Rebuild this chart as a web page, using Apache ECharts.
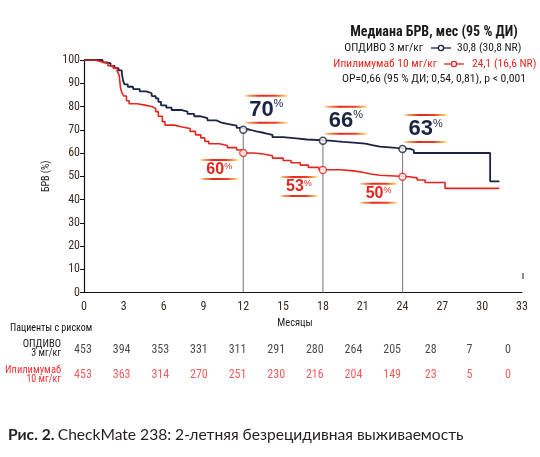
<!DOCTYPE html>
<html><head><meta charset="utf-8">
<script src="https://cdn.jsdelivr.net/npm/echarts@6/dist/echarts.min.js"></script>
<style>html,body{margin:0;padding:0;background:#fff}#c{width:540px;height:457px}</style>
</head><body><div id="c"></div>
<script>
// ---- data ----
const navyT = [0,1.4,1.7,2.0,2.3,2.6,2.85,2.95,3.05,3.3,3.7,4.2,4.7,5.1,5.4,5.6,5.8,6.2,6.6,7.3,7.8,8.3,8.8,9.3,10.0,10.3,10.8,11.5,11.9,12.5,13.0,13.6,14.2,15.0,16.0,16.8,18.5,19.5,20.3,21.2,21.8,22.3,23.5,24.6,24.85,30.6,31.3];
const navyS = [100,99,98.5,97.5,96.5,95.5,94.2,91,89.5,88.5,87.5,86.5,85.7,84.5,83.5,82,80.5,79.5,78.5,77.8,76.8,75.8,75,74,73.2,72.5,71.8,70.8,70,69.3,68.6,67.8,66.8,66.3,65.8,65.3,64.8,64.5,64,63.3,62.7,62.2,61.8,61.2,60,47.8,47.8];
const redT = [0,0.8,1.3,1.8,2.2,2.5,2.65,2.75,2.85,3.0,3.2,3.4,4.0,4.6,5.1,5.4,5.6,5.9,6.1,6.8,7.4,8.0,8.4,8.8,9.1,9.4,10.2,10.8,11.5,11.9,12.8,13.5,14.2,15.0,15.6,16.3,16.9,17.7,19.3,20.3,21.0,21.6,22.3,24.5,25.1,25.7,27.2,31.3];
const redS = [100,99.3,98.5,97.5,96.5,95.2,93.5,88,86,84.5,82.5,81.2,80.6,80,79.2,77.8,75.8,73.5,72,71.2,70.5,69.3,67.8,66.5,65,64,63.2,62.3,61.3,60,59.6,58.8,57.8,56.8,55.8,54.8,53.8,52.8,52.3,51.7,51,50.4,49.8,49.3,48.4,47.3,44.8,44.8];
const markMonths = [12,18,24];
const navyAtMark = [70,65.3,61.7];
const redAtMark = [60,52.7,49.8];
const navyLabels = ['70','66','63'];
const redLabels = ['60','53','50'];
const riskMonths = [0,3,6,9,12,15,18,21,24,27,30,33];
const riskNavy = [453,394,353,331,311,291,280,264,205,28,7,0];
const riskRed = [453,363,314,270,251,230,216,204,149,23,5,0];

// ---- style ----
const NAVY = '#1b2442', RED = '#e5261f', GRAY = '#8a8a8a';
const FAM = '"Roboto Condensed","Noto Sans Condensed","Open Sans Condensed","Noto Sans ExtraCondensed","Liberation Sans Narrow","Arial Narrow",Roboto,sans-serif';
const TICKC = '#3b2e22';
const cf = (size, bold) => (bold ? 'bold ' : '') + size + 'px ' + FAM;

const chart = echarts.init(document.getElementById('c'), null, {renderer:'canvas'});

function grad(){
  return new echarts.graphic.LinearGradient(0,0,1,0,[
    {offset:0,color:'rgba(247,166,35,0)'},
    {offset:0.12,color:'rgba(240,120,30,0.7)'},
    {offset:0.35,color:'#e5261f'},
    {offset:0.7,color:'#ec4322'},
    {offset:0.9,color:'rgba(247,170,40,0.75)'},
    {offset:1,color:'rgba(247,190,60,0)'}]);
}
function annot(color, labels, dx, dy, big, small, w, lt, lb){
  return function(params, api){
    const p = api.coord([api.value(0), api.value(1)]);
    const cx = p[0]+dx, cy = p[1]+dy;
    const txt = labels[params.dataIndex];
    return {type:'group', children:[
      {type:'rect', shape:{x:cx-w/2, y:cy+lt-1, width:w, height:2}, style:{fill:grad()}},
      {type:'rect', shape:{x:cx-w/2, y:cy+lb-1, width:w, height:2}, style:{fill:grad()}},
      {type:'text', x:cx, y:cy, style:{
        text:'{a|'+txt+'}{b|%}', align:'center', verticalAlign:'middle',
        rich:{
          a:{fontFamily:'"Liberation Sans",Arial,sans-serif', fontWeight:'bold', fontSize:big, fill:color, lineHeight:big},
          b:{fontFamily:'"Liberation Sans",Arial,sans-serif', fontSize:small, fill:color, verticalAlign:'top', lineHeight:big, padding:[0,0,big*0.45,0]}
        }}}
    ]};
  };
}

const vSeries = markMonths.map((m,i)=>({
  type:'line', xAxisIndex:0, yAxisIndex:0, data:[[m,0],[m,navyAtMark[i]]],
  symbol:'none', lineStyle:{color:GRAY,width:1.2}, z:1, silent:true
}));

const axisFont = {fontFamily:FAM, fontSize:12, color:TICKC};

const option = {
  animation:false,
  grid:[
    {left:84, right:18, top:60, bottom:164.5},
    {left:83, right:32, top:337.5, height:50}
  ],
  xAxis:[
    {type:'value', gridIndex:0, min:0, max:33, interval:3,
     axisLine:{lineStyle:{color:'#111',width:1.2}}, axisTick:{show:false},
     axisLabel:Object.assign({margin:8}, axisFont),
     splitLine:{show:false},
     name:'Месяцы', nameLocation:'middle', nameGap:25,
     nameTextStyle:{fontFamily:FAM, fontSize:10.5, color:'#222', padding:[0,16,0,0]}},
    {type:'value', gridIndex:1, min:0, max:33, show:false}
  ],
  yAxis:[
    {type:'value', gridIndex:0, min:0, max:100, interval:10,
     axisLine:{show:true, lineStyle:{color:'#111',width:1.2}},
     axisTick:{show:true, length:4, lineStyle:{color:'#111'}},
     axisLabel:Object.assign({margin:4}, axisFont),
     splitLine:{show:false},
     name:'БРВ (%)', nameLocation:'middle', nameGap:23, nameRotate:90,
     nameTextStyle:{fontFamily:FAM, fontSize:10, color:'#222'}},
    {type:'category', gridIndex:1, data:['ОПДИВО','Ипилимумаб'], inverse:true, show:false}
  ],
  series:[
    ...vSeries,
    {type:'line', name:'ОПДИВО', step:'end', data:navyT.map((t,i)=>[t,navyS[i]]),
     symbol:'none', lineStyle:{color:NAVY,width:1.8}, z:3},
    {type:'line', name:'Ипилимумаб', step:'end', data:redT.map((t,i)=>[t,redS[i]]),
     symbol:'none', lineStyle:{color:RED,width:1.6}, z:3},
    {type:'scatter', data:markMonths.map((m,i)=>[m,navyAtMark[i]]), symbol:'circle', symbolSize:7,
     itemStyle:{color:'#fff', borderColor:NAVY, borderWidth:1.6}, z:5},
    {type:'scatter', data:markMonths.map((m,i)=>[m,redAtMark[i]]), symbol:'circle', symbolSize:7,
     itemStyle:{color:'#fff', borderColor:RED, borderWidth:1.4}, z:5},
    {type:'custom', data:markMonths.map((m,i)=>[m,navyAtMark[i]]), renderItem:annot(NAVY,navyLabels,23,-20,22,11,46,-14,13), z:6},
    {type:'custom', data:markMonths.map((m,i)=>[m,redAtMark[i]]), renderItem:annot(RED,redLabels,-24,17,16,9,40,-10,9), z:6},
    {type:'scatter', xAxisIndex:1, yAxisIndex:1, symbolSize:0,
     data:riskMonths.map((m,i)=>[m,'ОПДИВО',riskNavy[i]]),
     label:{show:true, position:'inside', formatter:p=>p.data[2], fontFamily:FAM, fontSize:12, color:'#1a1a1a'}},
    {type:'scatter', xAxisIndex:1, yAxisIndex:1, symbolSize:0,
     data:riskMonths.map((m,i)=>[m,'Ипилимумаб',riskRed[i]]),
     label:{show:true, position:'inside', formatter:p=>p.data[2], fontFamily:FAM, fontSize:12, color:'#ef3434'}}
  ],
  graphic:[
    {type:'text', x:434, y:32, style:{text:'Медиана БРВ, мес (95 % ДИ)', align:'center', verticalAlign:'middle', font:cf(14,true), fill:'#1a1a1a'}},
    {type:'text', x:423, y:48, style:{text:'ОПДИВО 3 мг/кг', align:'right', verticalAlign:'middle', font:cf(11.5), fill:'#1a1a1a'}},
    {type:'line', shape:{x1:431,y1:48,x2:451,y2:48}, style:{stroke:NAVY,lineWidth:1.3}},
    {type:'circle', shape:{cx:441,cy:48,r:2.6}, style:{fill:'#fff',stroke:NAVY,lineWidth:1.3}},
    {type:'text', x:457, y:48, style:{text:'30,8 (30,8 NR)', align:'left', verticalAlign:'middle', font:cf(11.5), fill:'#1a1a1a'}},
    {type:'text', x:437, y:64, style:{text:'Ипилимумаб 10 мг/кг', align:'right', verticalAlign:'middle', font:cf(11.5), fill:RED}},
    {type:'line', shape:{x1:444,y1:64,x2:464,y2:64}, style:{stroke:RED,lineWidth:1.3}},
    {type:'circle', shape:{cx:454,cy:64,r:2.6}, style:{fill:'#fff',stroke:RED,lineWidth:1.3}},
    {type:'text', x:472, y:64, style:{text:'24,1 (16,6 NR)', align:'left', verticalAlign:'middle', font:cf(11.5), fill:RED}},
    {type:'text', x:434, y:79, style:{text:'ОР=0,66 (95 % ДИ; 0,54, 0,81), p < 0,001', align:'center', verticalAlign:'middle', font:cf(11.7), fill:'#1a1a1a'}},
    {type:'line', shape:{x1:523,y1:273,x2:523,y2:279}, style:{stroke:'#222',lineWidth:1}},
    {type:'text', x:10, y:328, style:{text:'Пациенты с риском', align:'left', verticalAlign:'middle', font:cf(10), fill:'#111'}},
    {type:'text', x:61, y:344, style:{text:'ОПДИВО', align:'right', verticalAlign:'middle', font:cf(10.5), fill:'#1a1a1a'}},
    {type:'text', x:61, y:353, style:{text:'3 мг/кг', align:'right', verticalAlign:'middle', font:cf(10), fill:'#1a1a1a'}},
    {type:'text', x:61, y:370, style:{text:'Ипилимумаб', align:'right', verticalAlign:'middle', font:cf(10.5), fill:'#ef3434'}},
    {type:'text', x:61, y:379, style:{text:'10 мг/кг', align:'right', verticalAlign:'middle', font:cf(10), fill:'#ef3434'}},
    {type:'text', x:8, y:435, style:{text:'{b|Рис. 2.} {r|CheckMate 238: 2-летняя безрецидивная выживаемость}', verticalAlign:'middle',
      rich:{b:{font:'bold 15.6px Lato,sans-serif', fill:'#231f20'}, r:{font:'15.6px Lato,sans-serif', fill:'#231f20'}}}}
  ]
};
chart.setOption(option);
</script></body></html>
